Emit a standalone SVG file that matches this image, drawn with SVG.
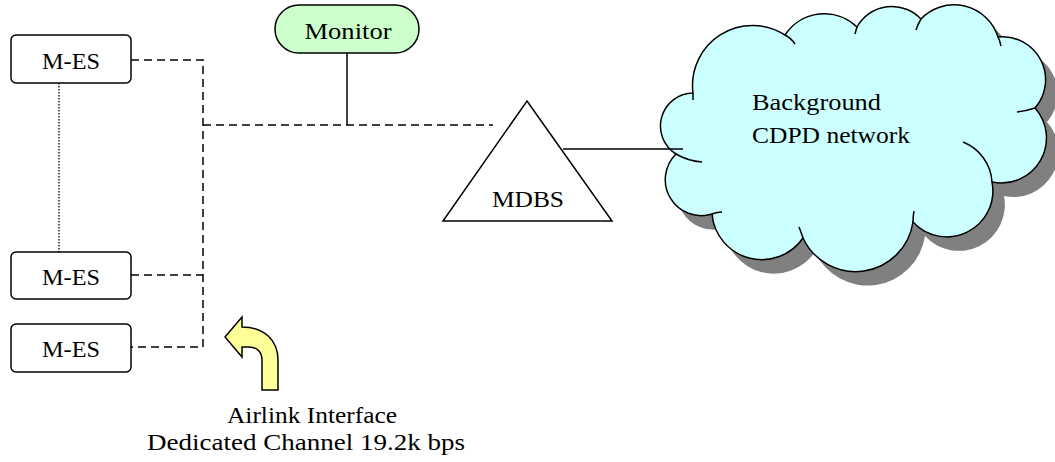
<svg xmlns="http://www.w3.org/2000/svg" width="1055" height="462" viewBox="0 0 1055 462">
<style>
.t{font-family:"Liberation Serif","Times New Roman",Times,serif;font-size:24px;fill:#000;text-anchor:middle}
.ts{font-family:"Liberation Serif","Times New Roman",Times,serif;font-size:24px;fill:#000}
.box{fill:#fff;stroke:#000;stroke-width:1.5}
.dash{fill:none;stroke:#000;stroke-width:1.5;stroke-dasharray:8 5}
.solid{fill:none;stroke:#000;stroke-width:1.5}
.dot{fill:none;stroke:#000;stroke-width:1.3;stroke-dasharray:1.5 1.5}
.cl{fill:#ccffff;stroke:#000;stroke-width:1.5}
.tail{fill:none;stroke:#000;stroke-width:1.5}
</style>
<defs>
<path id="cloudPath" d="M693,93 A60,60 0 0 1 785,35 A47,47 0 0 1 857,27 A40,40 0 0 1 921,19 A46,46 0 0 1 998,37 A43,43 0 0 1 1035,108 A45,45 0 0 1 992,182 A46,46 0 0 1 913,222 A58,58 0 0 1 803,238 A50,50 0 0 1 712,214 A36,36 0 0 1 676,154 A33,33 0 0 1 693,93 Z"/>
</defs>
<rect width="1055" height="462" fill="#fff"/>
<g id="connectors">
<path class="dash" d="M131,60 H203 V347 H131"/>
<path class="dash" d="M131,275 H203"/>
<path class="dash" d="M203,125 H493"/>
<path class="solid" d="M347,53 V125"/>
<path class="dot" d="M59,83 V252"/>
</g>
<g id="cloud">
<use href="#cloudPath" transform="translate(12,14)" fill="#808080"/>
<use href="#cloudPath" class="cl"/>
<path class="tail" d="M785,35 Q791,38 795,44"/>
<path class="tail" d="M857,27 Q856,30 855,34"/>
<path class="tail" d="M921,19 Q918,24 916,30"/>
<path class="tail" d="M998,37 Q1000,41 1001,46"/>
<path class="tail" d="M1035,108 Q1026,111 1017,112"/>
<path class="tail" d="M992,182 A46,46 0 0 0 963,142"/>
<path class="tail" d="M913,222 Q913,216 914,211"/>
<path class="tail" d="M803,238 Q801,232 799,227"/>
<path class="tail" d="M712,214 Q717,212 722,212"/>
<path class="tail" d="M676,154 Q688,161 702,162"/>
<path class="tail" d="M693,93 Q693,96 693,100"/>
<text class="ts" x="752" y="110" textLength="129" lengthAdjust="spacingAndGlyphs">Background</text>
<text class="ts" x="752" y="143" textLength="158" lengthAdjust="spacingAndGlyphs">CDPD network</text>
</g>
<g id="link">
<path class="solid" d="M563,149 H683"/>
</g>
<g id="mes1">
<rect class="box" x="11" y="35" width="120" height="48" rx="5"/>
<text class="t" x="71" y="69" textLength="58" lengthAdjust="spacingAndGlyphs">M-ES</text>
</g>
<g id="mes2">
<rect class="box" x="11" y="252" width="120" height="47" rx="5"/>
<text class="t" x="71" y="285" textLength="58" lengthAdjust="spacingAndGlyphs">M-ES</text>
</g>
<g id="mes3">
<rect class="box" x="11" y="324" width="120" height="48" rx="5"/>
<text class="t" x="71" y="357" textLength="58" lengthAdjust="spacingAndGlyphs">M-ES</text>
</g>
<g id="monitor">
<rect x="275" y="5" width="144" height="48" rx="24" fill="#ccffcc" stroke="#000" stroke-width="1.5"/>
<text class="t" x="348" y="39" textLength="87" lengthAdjust="spacingAndGlyphs">Monitor</text>
</g>
<g id="mdbs">
<polygon points="527,101 612,221 443,221" fill="#fff" stroke="#000" stroke-width="1.5"/>
<text class="t" x="528" y="207" textLength="72" lengthAdjust="spacingAndGlyphs">MDBS</text>
</g>
<g id="airlink">
<path d="M225,337 L242,317 L242,327 C264,327 278,340 278,360 L278,390 L262,390 L262,360 C262,352 257,347 249,347 L242,347 L242,357 Z" fill="#ffff99" stroke="#000" stroke-width="1.5"/>
<text class="t" x="312" y="423" textLength="170" lengthAdjust="spacingAndGlyphs">Airlink Interface</text>
<text class="t" x="306" y="450" textLength="318" lengthAdjust="spacingAndGlyphs">Dedicated Channel 19.2k bps</text>
</g>
</svg>
